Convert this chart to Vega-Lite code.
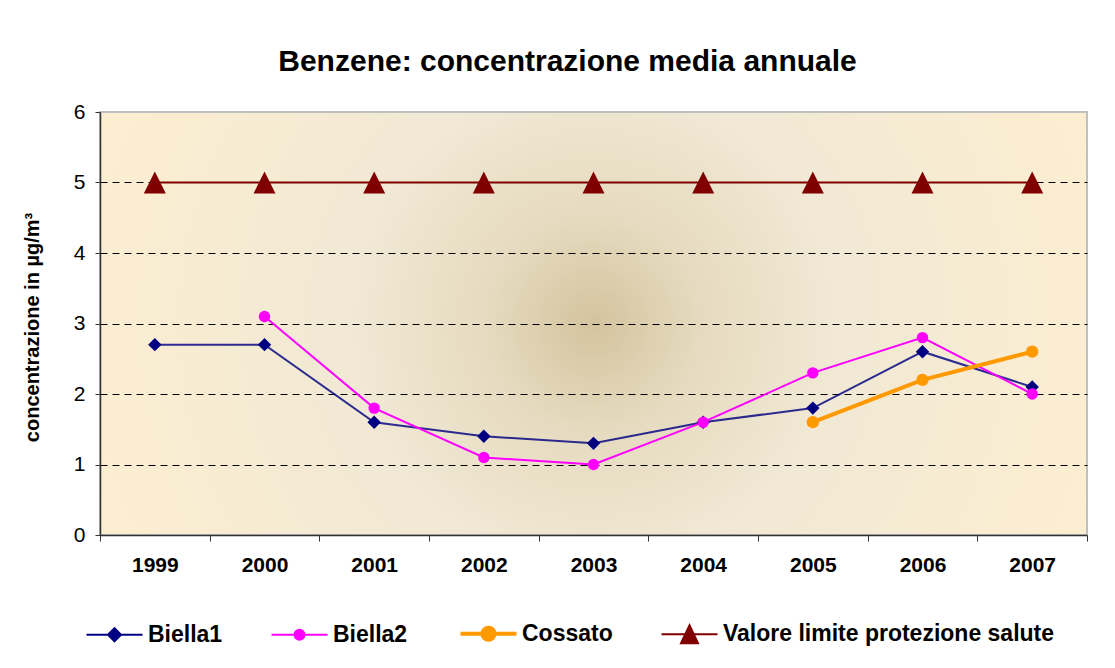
{
  "$schema": "https://vega.github.io/schema/vega-lite/v6.json",
  "width": 987,
  "height": 423,
  "autosize": {"type": "none"},
  "padding": {"left": 100, "top": 112, "right": 28, "bottom": 133},
  "background": "#ffffff",
  "config": {
    "font": "Liberation Sans",
    "view": {
      "stroke": "#c0c0c0",
      "strokeWidth": 2,
      "fill": {
        "gradient": "radial",
        "x1": 0.5, "y1": 0.5, "r1": 0,
        "x2": 0.5, "y2": 0.5, "r2": 0.55,
        "stops": [
          {"offset": 0, "color": "#d4c39d"},
          {"offset": 0.2, "color": "#e6dbc0"},
          {"offset": 0.45, "color": "#f1e9d5"},
          {"offset": 1, "color": "#fdeed0"}
        ]
      }
    }
  },
  "title": {
    "text": "Benzene: concentrazione media annuale",
    "fontSize": 30,
    "fontWeight": "bold",
    "font": "Liberation Sans",
    "color": "#000000",
    "anchor": "middle",
    "frame": "group",
    "baseline": "alphabetic",
    "offset": 0,
    "dx": -26
  },
  "data": {
    "values": [
      {"year": "1999", "series": "Biella1", "value": 2.7},
      {"year": "2000", "series": "Biella1", "value": 2.7},
      {"year": "2001", "series": "Biella1", "value": 1.6},
      {"year": "2002", "series": "Biella1", "value": 1.4},
      {"year": "2003", "series": "Biella1", "value": 1.3},
      {"year": "2004", "series": "Biella1", "value": 1.6},
      {"year": "2005", "series": "Biella1", "value": 1.8},
      {"year": "2006", "series": "Biella1", "value": 2.6},
      {"year": "2007", "series": "Biella1", "value": 2.1},
      {"year": "2000", "series": "Biella2", "value": 3.1},
      {"year": "2001", "series": "Biella2", "value": 1.8},
      {"year": "2002", "series": "Biella2", "value": 1.1},
      {"year": "2003", "series": "Biella2", "value": 1.0},
      {"year": "2004", "series": "Biella2", "value": 1.6},
      {"year": "2005", "series": "Biella2", "value": 2.3},
      {"year": "2006", "series": "Biella2", "value": 2.8},
      {"year": "2007", "series": "Biella2", "value": 2.0},
      {"year": "2005", "series": "Cossato", "value": 1.6},
      {"year": "2006", "series": "Cossato", "value": 2.2},
      {"year": "2007", "series": "Cossato", "value": 2.6},
      {"year": "1999", "series": "Valore limite protezione salute", "value": 5},
      {"year": "2000", "series": "Valore limite protezione salute", "value": 5},
      {"year": "2001", "series": "Valore limite protezione salute", "value": 5},
      {"year": "2002", "series": "Valore limite protezione salute", "value": 5},
      {"year": "2003", "series": "Valore limite protezione salute", "value": 5},
      {"year": "2004", "series": "Valore limite protezione salute", "value": 5},
      {"year": "2005", "series": "Valore limite protezione salute", "value": 5},
      {"year": "2006", "series": "Valore limite protezione salute", "value": 5},
      {"year": "2007", "series": "Valore limite protezione salute", "value": 5}
    ]
  },
  "encoding": {
    "x": {
      "field": "year",
      "type": "ordinal",
      "scale": {"type": "band", "paddingInner": 0, "paddingOuter": 0},
      "axis": {
        "title": null,
        "labelAngle": 0,
        "labelFontSize": 21,
        "labelFontWeight": "bold",
        "labelColor": "#000000",
        "labelPadding": 13,
        "tickBand": "extent",
        "tickSize": 6,
        "tickColor": "#333333",
        "domainColor": "#333333",
        "domainWidth": 1.5,
        "grid": false
      }
    },
    "y": {
      "field": "value",
      "type": "quantitative",
      "scale": {"domain": [0, 6], "nice": false},
      "axis": {
        "values": [0, 1, 2, 3, 4, 5, 6],
        "title": "concentrazione in  µg/m³",
        "titleFontSize": 20,
        "titleFontWeight": "bold",
        "titleColor": "#000000",
        "titleAngle": -90,
        "titleX": -62,
        "titleY": 215,
        "titleAlign": "center",
        "titleBaseline": "alphabetic",
        "labelFontSize": 21,
        "labelColor": "#000000",
        "labelPadding": 10,
        "tickSize": 5,
        "tickColor": "#333333",
        "domainColor": "#333333",
        "domainWidth": 1.5,
        "grid": true,
        "gridColor": {
          "condition": {"test": "datum.value == 0 || datum.value == 6", "value": "transparent"},
          "value": "#000000"
        },
        "gridDash": [7, 5],
        "gridWidth": 1
      }
    },
    "color": {
      "field": "series",
      "type": "nominal",
      "scale": {
        "domain": ["Biella1", "Biella2", "Cossato", "Valore limite protezione salute"],
        "range": ["#000080", "#ff00ff", "#ff9900", "#800000"]
      },
      "legend": {
        "title": null,
        "orient": "none",
        "direction": "horizontal",
        "columns": 4,
        "columnPadding": 44,
        "legendX": -15,
        "legendY": 510,
        "padding": 0,
        "labelFontSize": 23,
        "labelFontWeight": "bold",
        "labelColor": "#000000",
        "labelLimit": 500,
        "symbolSize": 100,
        "symbolOffset": 18,
        "labelOffset": 22,
        "encode": {
          "symbols": {
            "update": {
              "shape": {"signal": "datum.value === 'Biella1' ? 'M-5.6,0L5.6,0M-1.3,0L0,-1.3L1.3,0L0,1.3Z' : datum.value === 'Valore limite protezione salute' ? 'M-5.6,0L5.6,0M0,-1.8L1.7,1.8L-1.7,1.8Z' : datum.value === 'Cossato' ? 'M-5.6,0L5.6,0M-1.2,0A1.2,1.2 0 1,0 1.2,0A1.2,1.2 0 1,0 -1.2,0Z' : 'M-5.6,0L5.6,0M-1,0A1,1 0 1,0 1,0A1,1 0 1,0 -1,0Z'"},
              "strokeWidth": {"signal": "datum.value === 'Cossato' ? 4 : 2"},
              "fill": {"signal": "datum.value === 'Biella1' ? '#000080' : datum.value === 'Biella2' ? '#ff00ff' : datum.value === 'Cossato' ? '#ff9900' : '#800000'"},
              "stroke": {"signal": "datum.value === 'Biella1' ? '#2e3192' : datum.value === 'Biella2' ? '#ff00ff' : datum.value === 'Cossato' ? '#ff9900' : '#800000'"},
              "fillOpacity": {"value": 1},
              "strokeOpacity": {"value": 1},
              "opacity": {"value": 1}
            }
          }
        }
      }
    }
  },
  "layer": [
    {
      "mark": {"type": "line"},
      "encoding": {
        "strokeWidth": {
          "condition": {"test": "datum.series === 'Cossato'", "value": 4},
          "value": 2
        },
        "strokeOpacity": {
          "condition": {"test": "datum.series === 'Biella1'", "value": 0.82},
          "value": 1
        }
      }
    },
    {
      "mark": {"type": "point", "filled": true, "opacity": 1},
      "encoding": {
        "shape": {
          "condition": [
            {"test": "datum.series === 'Biella1'", "value": "diamond"},
            {"test": "datum.series === 'Valore limite protezione salute'", "value": "M0,-1L1,1L-1,1Z"}
          ],
          "value": "circle"
        },
        "size": {
          "condition": [
            {"test": "datum.series === 'Biella1'", "value": 180},
            {"test": "datum.series === 'Valore limite protezione salute'", "value": 484},
            {"test": "datum.series === 'Cossato'", "value": 150}
          ],
          "value": 130
        }
      }
    }
  ]
}
